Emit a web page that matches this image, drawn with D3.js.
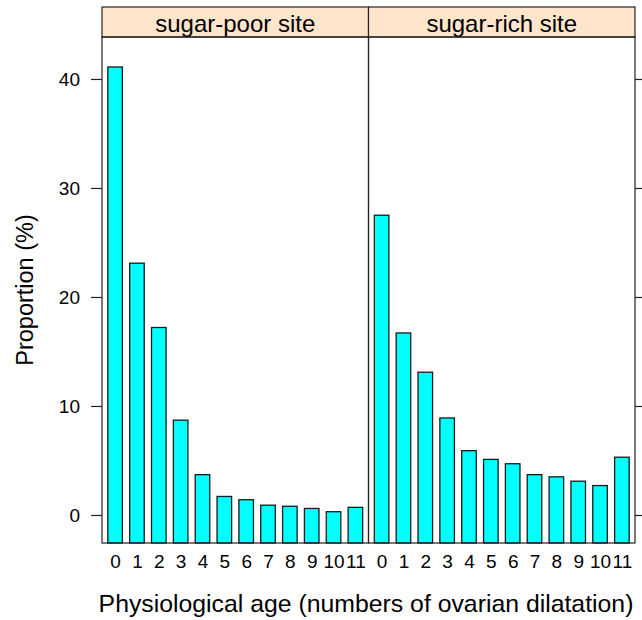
<!DOCTYPE html>
<html>
<head>
<meta charset="utf-8">
<script src="https://cdn.jsdelivr.net/npm/d3@7"></script>
<style>
  html, body { margin: 0; padding: 0; background: #fff; }
  text { font-family: "Liberation Sans", Arial, Helvetica, sans-serif; fill: #000; }
</style>
</head>
<body>
<svg id="chart" width="642" height="620"></svg>
<script>
const ages = ["0","1","2","3","4","5","6","7","8","9","10","11"];
const panels = ["sugar-poor site", "sugar-rich site"];
const sugarPoor = [41.1, 23.1, 17.2, 8.7, 3.7, 1.7, 1.4, 0.9, 0.8, 0.6, 0.3, 0.7];
const sugarRich = [27.5, 16.7, 13.1, 8.9, 5.9, 5.1, 4.7, 3.7, 3.5, 3.1, 2.7, 5.3];
const yTicks = [0, 10, 20, 30, 40];
const xLabel = "Physiological age (numbers of ovarian dilatation)";
const yLabel = "Proportion (%)";

const seriesByPanel = [sugarPoor, sugarRich];

const svg = d3.select("#chart");
const left = 102, right = 635, panelTop = 37, panelBottom = 543, stripTop = 7;
const panelW = (right - left) / 2;

const y = d3.scaleLinear().domain([-2.57, 43.85]).range([panelBottom, panelTop]);

panels.forEach((name, p) => {
  const x0 = left + p * panelW;
  const x = d3.scaleLinear().domain([0.4, ages.length + 0.6]).range([x0, x0 + panelW]);
  const g = svg.append("g");
  const vals = seriesByPanel[p];
  const bw = x(1 + 1/3) - x(1 - 1/3);

  g.selectAll("rect.bar").data(vals).enter().append("rect")
    .attr("class", "bar")
    .attr("x", (d, i) => x(i + 1) - bw / 2)
    .attr("width", bw)
    .attr("y", d => y(d))
    .attr("height", d => panelBottom - y(d))
    .attr("fill", "#00FFFF")
    .attr("stroke", "#1a1a1a")
    .attr("stroke-width", 1.3);

  // strip
  g.append("rect")
    .attr("x", x0).attr("y", stripTop)
    .attr("width", panelW).attr("height", panelTop - stripTop)
    .attr("fill", "#FFE5CC").attr("stroke", "#222").attr("stroke-width", 1.2);
  g.append("text")
    .attr("x", x0 + panelW / 2).attr("y", (stripTop + panelTop) / 2 + 1)
    .attr("text-anchor", "middle").attr("dominant-baseline", "central")
    .attr("font-size", 24)
    .text(name);

  // panel border
  g.append("rect")
    .attr("x", x0).attr("y", panelTop)
    .attr("width", panelW).attr("height", panelBottom - panelTop)
    .attr("fill", "none").attr("stroke", "#222").attr("stroke-width", 1.2);

  // x labels
  const xAxis = d3.axisBottom(x).tickValues(d3.range(1, ages.length + 1))
    .tickFormat((d) => ages[d - 1]).tickSize(0).tickPadding(12);
  const ax = svg.append("g").attr("transform", `translate(0,${panelBottom})`).call(xAxis);
  ax.select(".domain").remove();
  ax.selectAll("text").attr("font-size", 19).attr("font-family", null);
});

// left axis
const yAxisL = d3.axisLeft(y).tickValues(yTicks).tickSize(11).tickPadding(11);
const gl = svg.append("g").attr("transform", `translate(${left},0)`).call(yAxisL);
gl.select(".domain").remove();
gl.selectAll("line").attr("stroke", "#222").attr("stroke-width", 1.2);
gl.selectAll("text").attr("font-size", 19).attr("font-family", null);

// right axis ticks without labels
const yAxisR = d3.axisRight(y).tickValues(yTicks).tickSize(11).tickFormat("");
const gr = svg.append("g").attr("transform", `translate(${right},0)`).call(yAxisR);
gr.select(".domain").remove();
gr.selectAll("line").attr("stroke", "#222").attr("stroke-width", 1.2);

// axis titles
svg.append("text")
  .attr("x", 366).attr("y", 612)
  .attr("text-anchor", "middle")
  .attr("font-size", 24.8)
  .text(xLabel);
svg.append("text")
  .attr("transform", `translate(33,290) rotate(-90)`)
  .attr("text-anchor", "middle")
  .attr("font-size", 23.5)
  .text(yLabel);
</script>
</body>
</html>
